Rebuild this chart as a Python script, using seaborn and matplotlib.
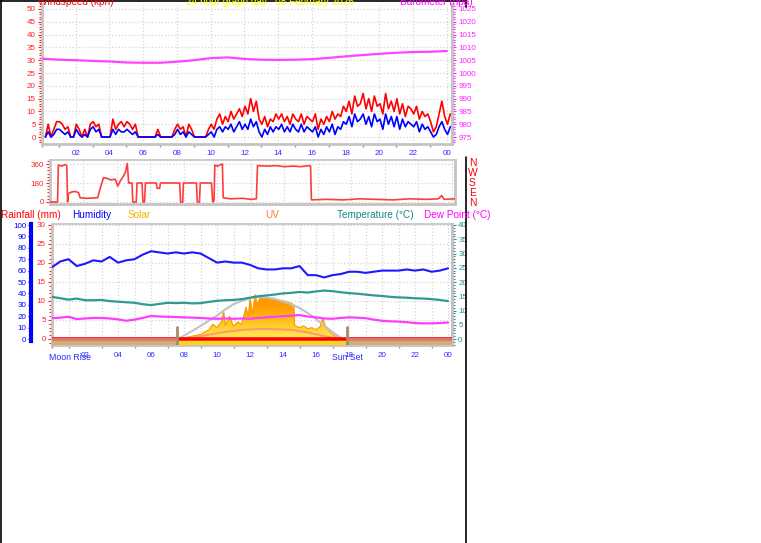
import numpy as np
import pandas as pd
import matplotlib
matplotlib.use("Agg")
import matplotlib.pyplot as plt
import seaborn as sns
from matplotlib.lines import Line2D
from matplotlib.ticker import MultipleLocator, FixedLocator
from matplotlib.colors import LinearSegmentedColormap

# ---------------- data ----------------
wind_start, wind_step = 0.2, 1 / 6
gust_kph = [0, 5, 0, 3, 6,
            6, 5, 3, 4, 0, 0,
            5, 3, 0, 3, 0, 5,
            6, 4, 5, 0, 0, 0,
            0, 7, 3, 5, 6, 4,
            6, 5, 3, 5, 0, 0,
            0, 0, 0, 0, 0, 3,
            0, 0, 0, 0, 0, 3,
            5, 3, 4, 0, 5, 3,
            0, 0, 0, 0, 0, 3,
            5, 3, 7, 9, 5, 8,
            6, 10, 7, 9, 11, 8,
            12, 9, 15, 10, 14, 7,
            5, 8, 4, 7, 6, 9,
            7, 9, 6, 8, 5, 9,
            7, 6, 9, 5, 8, 7,
            6, 9, 3, 7, 5, 8,
            6, 10, 7, 9, 8, 12,
            10, 14, 9, 16, 12, 13,
            17, 11, 15, 10, 16, 12,
            13, 9, 17, 11, 14, 10,
            15, 9, 13, 8, 12, 11,
            9, 12, 7, 10, 8, 9,
            6, 2, 4, 9, 14, 8,
            5, 9]
avg_kph = [0, 2, 0, 1, 3,
           3, 2, 1, 2, 0, 0,
           3, 1, 0, 1, 0, 3,
           4, 2, 3, 0, 0, 0,
           0, 3, 1, 3, 2, 2,
           3, 2, 1, 2, 0, 0,
           0, 0, 0, 0, 0, 1,
           0, 0, 0, 0, 0, 1,
           3, 1, 2, 0, 2, 1,
           0, 0, 0, 0, 0, 1,
           2, 0, 3, 4, 2, 4,
           3, 5, 2, 4, 6, 3,
           5, 3, 7, 4, 6, 2,
           0, 3, 1, 4, 2, 4,
           3, 5, 2, 4, 2, 5,
           3, 2, 5, 2, 4, 3,
           2, 4, 0, 3, 1, 4,
           2, 5, 1, 4, 3, 6,
           5, 8, 4, 9, 6, 7,
           9, 5, 8, 4, 9, 6,
           7, 3, 9, 5, 8, 4,
           8, 3, 7, 4, 6, 5,
           4, 6, 2, 5, 3, 4,
           2, 0, 1, 4, 6, 3,
           1, 4]
wind_hours = wind_start + np.arange(len(gust_kph)) * wind_step

baro_hours = list(range(25))
baro_hpa = [1005.6, 1005.2, 1005.0, 1004.7, 1004.5, 1004.1, 1004.0, 1004.0, 1004.4,
            1005.0, 1005.8, 1006.1, 1005.5, 1005.2, 1005.1, 1005.2, 1005.4, 1005.9,
            1006.5, 1007.0, 1007.5, 1007.9, 1008.2, 1008.3, 1008.6]

dir_hours = [0.0, 0.45, 0.5, 0.7, 0.9, 1.0, 1.05, 1.1, 1.3, 1.5, 1.7, 1.8, 2.2, 2.6, 2.85,
             3.0, 3.2, 3.4, 3.6, 3.9, 4.05, 4.2, 4.35, 4.5, 4.62, 4.7, 4.9, 4.95, 5.15, 5.2,
             5.5, 5.55, 5.65, 5.7, 6.35, 6.4, 6.55, 6.6, 7.75, 7.8, 7.93, 7.97, 8.75, 8.8,
             8.93, 8.98, 9.65, 9.72, 9.8, 9.85, 10.0, 10.2, 10.3, 10.35, 10.8, 11.5, 12.0,
             12.33, 12.4, 13.0, 13.5, 14.0, 14.5, 15.0, 15.5, 15.57, 15.62, 16.5, 17.5,
             18.5, 19.5, 20.5, 21.5, 22.5, 23.2, 23.4, 23.55, 24.2]
dir_deg = [0, 0, 350, 340, 355, 345, 0, 80, 95, 100, 90, 40, 35, 38, 40,
           130, 230, 225, 210, 215, 150, 200, 235, 280, 365, 180, 180, 0, 0, 180,
           180, 0, 0, 180, 180, 130, 130, 180, 180, 0, 0, 180, 180, 0,
           0, 180, 180, 0, 10, 350, 340, 355, 360, 40, 30, 35, 25,
           30, 345, 340, 345, 335, 340, 335, 345, 340, 20, 25, 20,
           30, 25, 20, 30, 25, 30, 60, 25, 30]

half_hours = np.arange(49) * 0.5
humidity = [63, 68, 70, 64, 66, 69, 68, 72, 67, 69, 70, 74, 77, 76, 75, 76, 75, 76, 75, 71,
            67, 68, 67, 67, 65, 62, 61, 61, 62, 62, 64, 56, 56, 54, 56, 57, 59, 59, 58, 59,
            60, 60, 60, 61, 60, 61, 59, 60, 62]
temperature = [14.8, 14.3, 13.8, 14.2, 13.6, 13.6, 13.7, 13.3, 13.1, 12.9, 12.7, 12.2, 11.9,
               12.3, 12.7, 12.6, 12.7, 12.5, 12.6, 13.0, 13.4, 13.6, 13.7, 14.0, 14.5, 15.0,
               15.3, 15.6, 16.0, 16.2, 16.5, 16.3, 16.7, 17.0, 16.8, 16.4, 16.1, 15.9, 15.6,
               15.3, 15.1, 14.8, 14.6, 14.5, 14.3, 14.2, 14.0, 13.7, 13.3]
dew_point = [7.3, 7.5, 7.8, 7.0, 7.2, 7.4, 7.4, 7.2, 6.9, 6.4, 6.8, 7.4, 8.1, 7.9, 7.8, 7.7,
             7.6, 7.5, 7.4, 7.2, 7.1, 7.2, 7.1, 7.2, 7.1, 7.4, 7.6, 7.8, 8.0, 8.2, 8.4, 7.9,
             7.6, 7.2, 7.1, 7.4, 7.6, 7.5, 7.3, 6.8, 6.4, 6.2, 6.1, 5.9, 5.6, 5.5, 5.5, 5.6, 5.8]

solar_hours = [7.6, 8.0, 8.5, 9.0, 9.25, 9.5, 9.75, 10.0, 10.25, 10.4, 10.5, 10.75, 11.0,
               11.25, 11.5, 11.75, 11.9, 12.0, 12.15, 12.3, 12.45, 12.6, 13.0, 13.5, 14.0,
               14.5, 14.65, 14.7, 15.0, 15.25, 15.5, 15.75, 16.0, 16.25, 16.4, 16.6, 17.0,
               17.3, 17.5]
solar_wm2 = [0, 10, 25, 40, 60, 80, 130, 100, 150, 240, 120, 200, 110,
             150, 130, 280, 200, 360, 220, 390, 300, 365, 360, 350, 335,
             315, 300, 120, 100, 115, 90, 100, 80, 110, 180, 100, 40,
             15, 0]
clear_hours = [7.65, 8.0, 8.5, 9.0, 9.5, 10.0, 10.5, 11.0, 11.5, 12.0, 12.5, 13.0, 13.5,
               14.0, 14.5, 15.0, 15.5, 16.0, 16.5, 17.0, 17.5, 17.65]
clear_wm2 = [0, 30, 70, 115, 160, 205, 260, 305, 335, 358, 368, 365, 352,
             330, 305, 272, 228, 175, 118, 60, 12, 0]
uv_hours = [7.6, 8.5, 9.5, 10.5, 11.5, 12.5, 13.5, 14.5, 15.5, 16.5, 17.5]
uv_index = [0, 0.5, 1.5, 2.5, 3.2, 3.5, 3.5, 3.2, 2.3, 1.0, 0]
rain_hours = [0, 24.24]
rain_mm = [0, 0]

sunrise_hour, sunset_hour, moonrise_hour = 7.6, 17.9, 1.1
hour_ticks = [2, 4, 6, 8, 10, 12, 14, 16, 18, 20, 22, 24]
hour_labels = ['02', '04', '06', '08', '10', '12', '14', '16', '18', '20', '22', '00']
dir_letters = ['N', 'W', 'S', 'E', 'N']

# ---------------- style ----------------
sns.set_theme(style='white')
plt.rcParams['font.family'] = ['Liberation Sans', 'DejaVu Sans']

W, H = 761, 543
fig = plt.figure(figsize=(W / 100, H / 100), dpi=100)
fig.patch.set_facecolor('white')


def rect(x0, y0, x1, y1):
    return [x0 / W, 1 - y1 / H, (x1 - x0) / W, (y1 - y0) / H]


def ftext(x, y, s, color, size=7.2, **kw):
    fig.text(x / W, 1 - y / H, s, color=color, fontsize=size, **kw)


SPINE = '#c4c4c4'
GRID = dict(color='#d6d6d6', linestyle=':', linewidth=0.9)
XBLUE = '#2c2cff'
TICKFS = 5.8


def style_spines(ax, top=False):
    for k, sp in ax.spines.items():
        sp.set_color(SPINE)
        sp.set_linewidth(2.0 if k != 'top' else 1.2)
    ax.spines['top'].set_visible(top)


def hide_twin(ax):
    for sp in ax.spines.values():
        sp.set_visible(False)
    ax.tick_params(left=False, right=False, labelleft=False, labelright=False)
    ax.set_xlabel('')
    ax.set_ylabel('')


def line(ax, x, y, color, lw, z=3):
    sns.lineplot(x=x, y=y, ax=ax, color=color, linewidth=lw, estimator=None,
                 sort=False, legend=False, zorder=z)
    ax.set_xlabel('')
    ax.set_ylabel('')


# ---------------- panel 1 : wind + barometer ----------------
ax1 = fig.add_axes(rect(42, 4, 452, 144))
ax1.set_facecolor('white')
ax1.grid(True, **GRID)
ax1.set_axisbelow(True)
line(ax1, wind_hours, gust_kph, '#ff0000', 1.2)
line(ax1, wind_hours, avg_kph, '#0000ff', 1.2, z=4)
ax1.set_xlim(0, 24.3)
ax1.set_ylim(-2.73, 51.95)
ax1.yaxis.set_major_locator(MultipleLocator(5))
ax1.yaxis.set_minor_locator(MultipleLocator(1))
ax1.xaxis.set_major_locator(FixedLocator(hour_ticks))
ax1.set_xticklabels(hour_labels)
ax1.xaxis.set_minor_locator(MultipleLocator(1))
ax1.tick_params(axis='y', which='both', colors='#ff2020', labelsize=TICKFS, direction='out',
                length=3, width=0.8, pad=1.5, left=True)
ax1.tick_params(axis='y', which='minor', length=2)
ax1.tick_params(axis='x', which='major', colors=XBLUE, labelsize=TICKFS, length=0, pad=4.5, bottom=True)
ax1.tick_params(axis='x', which='minor', color='#909090', length=2, bottom=True)
style_spines(ax1)

ax1b = ax1.twinx()
line(ax1b, baro_hours, baro_hpa, '#ff44ff', 1.6)
ax1b.set_ylim(975 - 2.73, 1025 + 1.95)
ax1b.set_xlim(0, 24.3)
ax1b.yaxis.set_major_locator(MultipleLocator(5))
ax1b.yaxis.set_minor_locator(MultipleLocator(1))
ax1b.tick_params(axis='y', which='both', colors='#ff22ff', labelsize=TICKFS, direction='out',
                 length=3, width=0.8, pad=1.5, right=True)
ax1b.tick_params(axis='y', which='minor', length=2)
for k, sp in ax1b.spines.items():
    sp.set_visible(k == 'right')
    sp.set_color(SPINE)
    sp.set_linewidth(2.0)

ftext(38, 5, 'Windspeed (kph)', '#ff0000', va='baseline')
ftext(186, 5, '24 hour graph day : 08 February 2026', '#ffff00', va='baseline')
ftext(400, 5, 'Barometer (hpa)', '#ff00ff', va='baseline')

# ---------------- panel 2 : wind direction ----------------
ax2 = fig.add_axes(rect(50, 160, 455, 204))
ax2.set_facecolor('white')
ax2.grid(True, **GRID)
ax2.set_axisbelow(True)
line(ax2, dir_hours, dir_deg, '#ff3c3c', 1.2)
ax2.set_xlim(0, 24.2)
ax2.set_ylim(-19, 398)
ax2.yaxis.set_major_locator(FixedLocator([0, 180, 360]))
ax2.yaxis.set_minor_locator(MultipleLocator(30))
ax2.xaxis.set_major_locator(MultipleLocator(2))
ax2.tick_params(axis='x', labelbottom=False, length=0)
ax2.tick_params(axis='y', which='both', colors='#ff2020', labelsize=TICKFS, direction='out',
                length=3, width=0.8, pad=1.5, left=True)
ax2.tick_params(axis='y', which='minor', length=2)
style_spines(ax2, top=True)
for i, letter in enumerate(dir_letters):
    ax2.text(1.043, 0.935 - i * 0.228, letter, transform=ax2.transAxes, color='#ff0000',
             fontsize=7.4, ha='center', va='center', clip_on=False)

# ---------------- panel 3 : rain / humidity / solar / temp ----------------
ftext(1, 218, 'Rainfall (mm)', '#ff0000', va='baseline')
ftext(72, 218, 'Humidity', '#0000ff', va='baseline')
ftext(128, 218, 'Solar', '#f0b400', va='baseline')
ftext(265, 218, 'UV', '#ff7a3a', va='baseline')
ftext(337, 218, 'Temperature (\u00b0C)', '#108a84', va='baseline')
ftext(424, 218, 'Dew Point (\u00b0C)', '#ff00ff', va='baseline')

XL3 = (0, 24.24)
ax3 = fig.add_axes(rect(52, 224, 452, 345))
ax3.set_facecolor('white')
ax3.grid(True, **GRID)
ax3.set_axisbelow(True)
ax3.set_xlim(*XL3)
ax3.set_ylim(-1.58, 30.26)
ax3.yaxis.set_major_locator(MultipleLocator(5))
ax3.yaxis.set_minor_locator(MultipleLocator(1))
ax3.xaxis.set_major_locator(FixedLocator(hour_ticks))
ax3.set_xticklabels(hour_labels)
ax3.xaxis.set_minor_locator(MultipleLocator(1))
ax3.grid(True, which='minor', axis='x', **GRID)
ax3.tick_params(axis='y', which='both', colors='#ff2020', labelsize=TICKFS, direction='out',
                length=3, width=0.8, pad=1.5, left=True)
ax3.tick_params(axis='y', which='minor', length=2)
ax3.tick_params(axis='x', which='major', colors=XBLUE, labelsize=TICKFS, length=0, pad=5, bottom=True)
ax3.tick_params(axis='x', which='minor', color='#909090', length=2, bottom=True)
style_spines(ax3, top=True)

# solar (area with gradient) and clear-sky curve
ax_s = ax3.twinx()
poly = ax_s.fill_between(solar_hours, solar_wm2, 0, color='#ffa000', linewidth=0, zorder=1)
grad = np.linspace(0, 1, 256).reshape(-1, 1)
cmap = LinearSegmentedColormap.from_list('sol', ['#ffee60', '#ffc820', '#ffa000', '#ff9000'])
im = ax_s.imshow(grad, extent=[7.5, 17.8, 0, 400], origin='lower', aspect='auto',
                 cmap=cmap, zorder=1.5, interpolation='bilinear')
im.set_clip_path(poly.get_paths()[0], transform=ax_s.transData)
line(ax_s, solar_hours, solar_wm2, '#ff9a00', 0.8, z=2)
line(ax_s, clear_hours, clear_wm2, '#c2c2c2', 1.5, z=3)
ax_s.set_xlim(*XL3)
ax_s.set_ylim(-52.6, 1008.8)
hide_twin(ax_s)

# UV
ax_uv = ax3.twinx()
line(ax_uv, uv_hours, uv_index, '#ff9a70', 1.5, z=3)
ax_uv.set_xlim(*XL3)
ax_uv.set_ylim(-2.1, 40.35)
hide_twin(ax_uv)

# humidity
ax_h = ax3.twinx()
line(ax_h, half_hours, humidity, '#1a1aff', 1.5)
ax_h.set_xlim(*XL3)
ax_h.set_ylim(-5.26, 100.88)
for sp in ax_h.spines.values():
    sp.set_visible(False)
ax_h.yaxis.tick_left()
ax_h.spines['left'].set_visible(True)
ax_h.spines['left'].set_position(('outward', 15))
ax_h.spines['left'].set_color('#0000ff')
ax_h.spines['left'].set_linewidth(3)
ax_h.spines['left'].set_bounds(-1.5, 100.5)
ax_h.yaxis.set_major_locator(MultipleLocator(10))
ax_h.tick_params(axis='y', which='both', colors='#0000ff', labelsize=TICKFS, direction='out',
                 length=2, width=0.8, pad=1.5, left=True, right=False, labelleft=True,
                 labelright=False)

# temperature and dew point
ax_t = ax3.twinx()
line(ax_t, half_hours, temperature, '#2e9a92', 1.6)
line(ax_t, half_hours, dew_point, '#ff3cff', 1.6)
ax_t.set_xlim(*XL3)
ax_t.set_ylim(-2.1, 40.35)
for k, sp in ax_t.spines.items():
    sp.set_visible(k == 'right')
    sp.set_color(SPINE)
    sp.set_linewidth(2.0)
ax_t.yaxis.set_major_locator(MultipleLocator(5))
ax_t.yaxis.set_minor_locator(MultipleLocator(1))
ax_t.tick_params(axis='y', which='both', colors='#2a8f8a', labelsize=TICKFS, direction='out',
                 length=3, width=0.8, pad=1.5, right=True)
ax_t.tick_params(axis='y', which='minor', length=2)

# rainfall line, day/night strip, sun markers
ax_r = ax3.twinx()
ax_r.set_xlim(*XL3)
ax_r.set_ylim(-1.58, 30.26)
ax_r.axhspan(-1.58, -0.55, color='#ffd21a', lw=0, zorder=1)
line(ax_r, rain_hours, rain_mm, '#ff0000', 2.6, z=2)
ax_r.axvspan(0, sunrise_hour, ymin=0, ymax=0.06, color='#c8a090', alpha=0.75, lw=0, zorder=3)
ax_r.axvspan(sunset_hour, XL3[1], ymin=0, ymax=0.06, color='#c8a090', alpha=0.75, lw=0, zorder=3)
for hx in (sunrise_hour, sunset_hour):
    ax_r.axvline(hx, ymin=0, ymax=0.15, color='#a88a6a', lw=2, zorder=4)
hide_twin(ax_r)

tr = ax3.get_xaxis_transform()
ax3.text(moonrise_hour, -0.07, 'Moon Rise', transform=tr, color=XBLUE, fontsize=6.3,
         ha='center', va='top', clip_on=False)
ax3.text(sunset_hour, -0.07, 'Sun Set', transform=tr, color=XBLUE, fontsize=6.3,
         ha='center', va='top', clip_on=False)

# ---------------- outer frame lines ----------------
fig.add_artist(Line2D([0.5 / W, 0.5 / W], [0, 1], color='black', lw=1.2))
fig.add_artist(Line2D([0, 466 / W], [1 - 0.5 / H, 1 - 0.5 / H], color='black', lw=1.2))
fig.add_artist(Line2D([465.5 / W, 465.5 / W], [1 - 0 / H, 1 - 7 / H], color='black', lw=1.2))
fig.add_artist(Line2D([465.5 / W, 465.5 / W], [1 - 157 / H, 0], color='black', lw=1.2))

fig.savefig('out.png', dpi=100, facecolor='white')
